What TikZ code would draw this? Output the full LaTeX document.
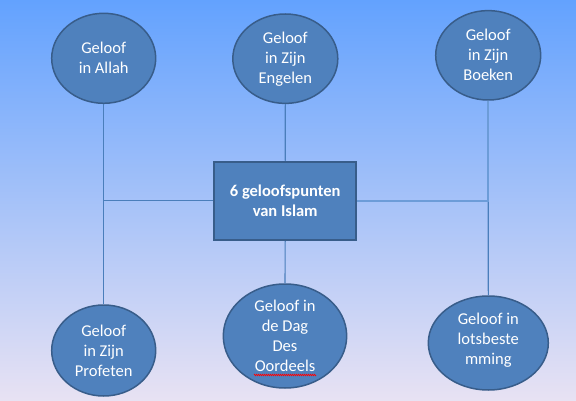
\documentclass[tikz,border=0pt]{standalone}
\usepackage{fontspec}
\setmainfont{Carlito}
\usetikzlibrary{shapes.geometric,decorations.pathmorphing}
\definecolor{bgtop}{HTML}{63A2FE}
\definecolor{bgmid}{HTML}{8CC2F8}
\definecolor{bgbot}{HTML}{E8E2F3}
\definecolor{nodefill}{HTML}{4F81BD}
\definecolor{nodeline}{HTML}{385D8A}
\definecolor{conn}{HTML}{4A7EBB}
\definecolor{connlight}{HTML}{6C9CD8}
\tikzset{
  ell/.style={ellipse, fill=nodefill, draw=nodeline, line width=1.5pt, inner sep=0pt},
  lbl/.style={text=white, align=center, inner sep=0pt, font=\fontsize{16.5}{20}\selectfont},
  mainbox/.style={rectangle, fill=nodefill, draw=nodeline, line width=2pt, inner sep=0pt,
    minimum width=141.7pt, minimum height=78.3pt, text=white, align=center,
    font=\fontsize{16.5}{20}\selectfont\bfseries},
  darkline/.style={draw=conn, line width=1.1pt},
  lightline/.style={draw=connlight, line width=1.7pt}
}
\begin{document}
\begin{tikzpicture}[x=1pt,y=-1pt]
\shade[top color=bgtop, middle color=bgmid, bottom color=bgbot] (0,0) rectangle (576,401);
\useasboundingbox (0,0) rectangle (576,401);
% ellipses
\node[ell, minimum width=104pt, minimum height=90pt] (allah) at (103.7,58.3) {};
\node[ell, minimum width=105pt, minimum height=89.4pt] (engelen) at (285.3,58.7) {};
\node[ell, minimum width=105pt, minimum height=89.4pt] (boeken) at (488.2,55.3) {};
\node[ell, minimum width=104pt, minimum height=91pt] (profeten) at (103.7,350.5) {};
\node[ell, minimum width=123.4pt, minimum height=104pt] (oordeels) at (285,336) {};
\node[ell, minimum width=120pt, minimum height=94pt] (lots) at (488.3,343) {};
\node[mainbox] (box) at (285.2,200.9) {6 geloofspunten\\van Islam};
% connectors
\draw[darkline] (allah.south) -- (profeten.north);
\draw[darkline] (allah.south |- box.west) -- (box.west);
\draw[darkline] (engelen.south) -- (box.north);
\draw[darkline] (box.south) -- (oordeels.north);
\draw[darkline] (boeken.south |- box.east) -- (lots.north);
\draw[lightline] (boeken.south) |- (box.east);
% labels
\node[lbl] (tallah) at (allah.center) {Geloof\\in Allah};
\node[lbl] (tengelen) at (engelen.center) {Geloof\\in Zijn\\Engelen};
\node[lbl] (tboeken) at (boeken.center) {Geloof\\in Zijn\\Boeken};
\node[lbl] (tprofeten) at (profeten.center) {Geloof\\in Zijn\\Profeten};
\node[lbl] (toordeels) at (oordeels.center) {Geloof in\\de Dag\\Des\\Oordeels};
\node[lbl] (tlots) at ([yshift=2.5pt]lots.center) {Geloof in\\lotsbeste\\mming};
% spelling mark under "Oordeels"
\draw[red, line width=0.6pt, decorate, decoration={zigzag, segment length=2pt, amplitude=0.8pt}]
  ([xshift=-31pt,yshift=-3pt]toordeels.south) -- ([xshift=31pt,yshift=-3pt]toordeels.south);
\end{tikzpicture}
\end{document}
